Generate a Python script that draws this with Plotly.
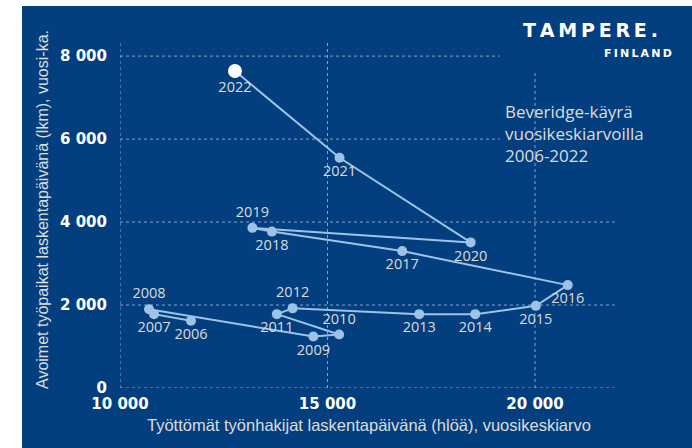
import plotly.graph_objects as go

# Beveridge curve for Tampere: annual averages 2006-2022
years = [2006, 2007, 2008, 2009, 2010, 2011, 2012, 2013, 2014,
         2015, 2016, 2017, 2018, 2019, 2020, 2021, 2022]
unemployed = [11710, 10820, 10700, 14660, 15280, 13780, 14160, 17210, 18560,
              20020, 20790, 16800, 13660, 13190, 18450, 15290, 12770]
vacancies = [1620, 1780, 1900, 1240, 1290, 1780, 1920, 1780, 1780,
             1980, 2480, 3300, 3770, 3860, 3510, 5550, 7640]
label_side = ["bottom", "bottom", "top", "bottom", "top", "bottom", "top", "bottom", "bottom",
              "bottom", "bottom", "bottom", "bottom", "top", "bottom", "bottom", "bottom"]

x_ticks = [10000, 15000, 20000]
x_tick_text = ["10 000", "15 000", "20 000"]
y_ticks = [0, 2000, 4000, 6000, 8000]
y_tick_text = ["0", "2 000", "4 000", "6 000", "8 000"]

X_RANGE = [10000, 22000]
Y_RANGE = [0, 8340]

BG = "#033F7F"
LINE = "#9DC3E6"
LABEL = "#DCDCDC"
GRID = "rgba(190,208,232,0.7)"

fig = go.Figure()

point_colors = [LINE] * (len(years) - 1) + ["#FFFFFF"]
point_sizes = [10] * (len(years) - 1) + [14]

fig.add_trace(go.Scatter(
    x=unemployed, y=vacancies,
    mode="lines+markers+text",
    text=[str(y) for y in years],
    textposition=[f"{s} center" for s in label_side],
    textfont=dict(family="Open Sans", size=14.5, color=LABEL),
    line=dict(color=LINE, width=2),
    marker=dict(color=point_colors, size=point_sizes, opacity=1, line=dict(width=0)),
    hoverinfo="skip",
    showlegend=False,
    cliponaxis=False,
))

shapes = []
# white frame strips around the blue panel
shapes.append(dict(type="rect", xref="paper", yref="paper", x0=-0.30, x1=-0.1968,
                   y0=-0.30, y1=1.20, fillcolor="white", line=dict(width=0), layer="below"))
shapes.append(dict(type="rect", xref="paper", yref="paper", x0=-0.30, x1=1.30,
                   y0=1.104, y1=1.20, fillcolor="white", line=dict(width=0), layer="below"))

# dotted gridlines; the upper-right part is left open for the logo and caption
for yv in y_ticks:
    x_end = 19150 if yv >= 6000 else 21920
    shapes.append(dict(type="line", xref="x", yref="y", x0=X_RANGE[0], x1=x_end, y0=yv, y1=yv,
                       line=dict(color=GRID, width=1, dash="dot"), layer="below"))
for xv in x_ticks:
    y_top = 7600 if xv >= 20000 else Y_RANGE[1]
    shapes.append(dict(type="line", xref="x", yref="y", x0=xv, x1=xv, y0=0, y1=y_top,
                       line=dict(color=GRID, width=1, dash="dot"), layer="below"))

annotations = [
    dict(text="Avoimet työpaikat laskentapäivänä (lkm), vuosi-ka.", textangle=-90,
         xref="paper", yref="paper", x=-0.1546, y=0.5145, showarrow=False,
         xanchor="center", yanchor="middle",
         font=dict(family="Liberation Sans", size=16, color=LABEL)),
    dict(text="Työttömät työnhakijat laskentapäivänä (hlöä), vuosikeskiarvo",
         xref="paper", yref="paper", x=0.501, y=-0.107, showarrow=False,
         xanchor="center", yanchor="middle",
         font=dict(family="Liberation Sans", size=16.5, color=LABEL)),
    dict(text="Beveridge-käyrä<br>vuosikeskiarvoilla<br>2006-2022",
         xref="paper", yref="paper", x=0.769, y=0.7355, showarrow=False,
         xanchor="left", yanchor="middle", align="left",
         font=dict(family="Open Sans", size=17, color=LABEL)),
    dict(text="T\u2009A\u2009M\u2009P\u2009E\u2009R\u2009E\u2009.",
         xref="paper", yref="paper", x=(660 - 120) / 498, y=(388 - 30) / 346, showarrow=False,
         xanchor="right", yanchor="middle",
         font=dict(family="DejaVu Sans", size=19, color="white", weight="bold")),
    dict(text="F\u2009I\u2009N\u2009L\u2009A\u2009N\u2009D",
         xref="paper", yref="paper", x=(674 - 120) / 498, y=(388 - 53.5) / 346, showarrow=False,
         xanchor="right", yanchor="middle",
         font=dict(family="DejaVu Sans", size=11, color="white", weight="bold")),
]

tick_font = dict(family="DejaVu Sans", size=15, color="white", weight="bold")

fig.update_layout(
    width=692, height=448,
    margin=dict(l=120, r=74, t=42, b=60),
    paper_bgcolor=BG, plot_bgcolor="rgba(0,0,0,0)",
    shapes=shapes, annotations=annotations,
    xaxis=dict(range=X_RANGE, tickvals=x_ticks, ticktext=x_tick_text,
               showgrid=False, zeroline=False, showline=False,
               ticks="outside", ticklen=2, tickcolor="rgba(0,0,0,0)",
               tickfont=tick_font, fixedrange=True),
    yaxis=dict(range=Y_RANGE, tickvals=y_ticks, ticktext=y_tick_text,
               showgrid=False, zeroline=False, showline=False,
               ticks="outside", ticklen=9, tickcolor="rgba(0,0,0,0)",
               tickfont=tick_font, fixedrange=True),
)

fig.write_html("out.html")
